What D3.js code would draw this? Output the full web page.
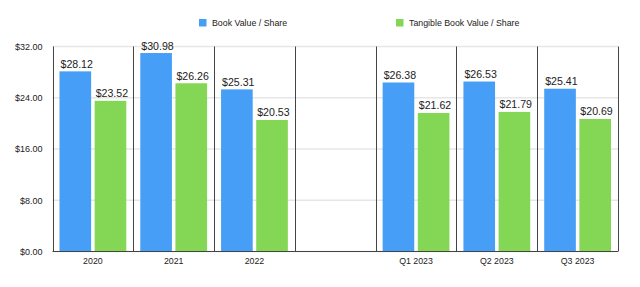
<!DOCTYPE html>
<html>
<head>
<meta charset="utf-8">
<script src="https://cdn.jsdelivr.net/npm/d3@7"></script>
<style>
  body { margin: 0; background: #fff; }
  text { font-family: "Liberation Sans", Arial, Helvetica, sans-serif; fill: #222; }
</style>
</head>
<body>
<div id="chart"></div>
<script>
// données
const categories = ["2020", "2021", "2022", "", "Q1 2023", "Q2 2023", "Q3 2023"];
const bookValue = [28.12, 30.98, 25.31, null, 26.38, 26.53, 25.41];
const tangibleBookValue = [23.52, 26.26, 20.53, null, 21.62, 21.79, 20.69];
const seriesNames = ["Book Value / Share", "Tangible Book Value / Share"];
const colors = ["#479ef6", "#84d655"];
const yTicks = [0, 8, 16, 24, 32];

const width = 640, height = 287;
const margin = { top: 46.5, right: 22, bottom: 35.5, left: 52.5 };

const svg = d3.select("#chart").append("svg")
    .attr("width", width)
    .attr("height", height);

// on garde un index pour la catégorie vide
const keys = categories.map((c, i) => i);

const x = d3.scaleBand()
    .domain(keys)
    .range([margin.left, width - margin.right]);

const xInner = d3.scaleBand()
    .domain([0, 1])
    .range([7, x.bandwidth() - 7])
    .paddingInner(0.1);

const y = d3.scaleLinear()
    .domain([0, 32])
    .range([height - margin.bottom, margin.top]);

// grille horizontale
svg.append("g")
    .selectAll("line")
    .data(yTicks)
    .join("line")
    .attr("x1", margin.left)
    .attr("x2", width - margin.right)
    .attr("y1", d => y(d))
    .attr("y2", d => y(d))
    .attr("stroke", "#e6e6e6")
    .attr("stroke-width", 1.5);

// axe y
const yAxis = svg.append("g")
    .attr("transform", `translate(${margin.left},0)`)
    .call(d3.axisLeft(y).tickValues(yTicks).tickSize(0).tickPadding(10)
        .tickFormat(d => "$" + d.toFixed(2)));
yAxis.select(".domain").remove();
yAxis.selectAll("text").style("font-size", "9px").style("fill", "#222");

// barres
const rows = keys.map(i => ({ i, values: [bookValue[i], tangibleBookValue[i]] }));

const groups = svg.append("g")
    .selectAll("g")
    .data(rows)
    .join("g")
    .attr("transform", d => `translate(${x(d.i)},0)`);

groups.selectAll("rect")
    .data(d => d.values.map((v, s) => ({ v, s })).filter(e => e.v !== null))
    .join("rect")
    .attr("x", d => xInner(d.s))
    .attr("width", xInner.bandwidth())
    .attr("y", d => y(d.v))
    .attr("height", d => y(0) - y(d.v))
    .attr("fill", d => colors[d.s]);

groups.selectAll("text")
    .data(d => d.values.map((v, s) => ({ v, s })).filter(e => e.v !== null))
    .join("text")
    .attr("x", d => xInner(d.s) + 1)
    .attr("y", d => y(d.v) - 3.5)
    .style("font-size", "10.6px")
    .text(d => "$" + d.v.toFixed(2));

// séparateurs verticaux
const seps = keys.map(i => x(i)).concat([width - margin.right]);
svg.append("g")
    .selectAll("line")
    .data(seps)
    .join("line")
    .attr("x1", d => Math.round(d) + 0.5)
    .attr("x2", d => Math.round(d) + 0.5)
    .attr("y1", margin.top)
    .attr("y2", y(0))
    .attr("stroke", "#444")
    .attr("stroke-width", 1);

// axe x
svg.append("line")
    .attr("x1", margin.left)
    .attr("x2", width - margin.right)
    .attr("y1", y(0))
    .attr("y2", y(0))
    .attr("stroke", "#444")
    .attr("stroke-width", 1.2);

svg.append("g")
    .selectAll("text")
    .data(rows)
    .join("text")
    .attr("x", d => x(d.i) + x.bandwidth() / 2)
    .attr("y", y(0) + 12.5)
    .attr("text-anchor", "middle")
    .style("font-size", "8.8px")
    .text(d => categories[d.i]);

// légende
const legendX = [199, 396];
const legend = svg.append("g")
    .selectAll("g")
    .data(seriesNames)
    .join("g")
    .attr("transform", (d, i) => `translate(${legendX[i]},19)`);
legend.append("rect")
    .attr("width", 7.5)
    .attr("height", 7.5)
    .attr("fill", (d, i) => colors[i]);
legend.append("text")
    .attr("x", 13)
    .attr("y", 7)
    .style("font-size", "8.8px")
    .text(d => d);
</script>
</body>
</html>
